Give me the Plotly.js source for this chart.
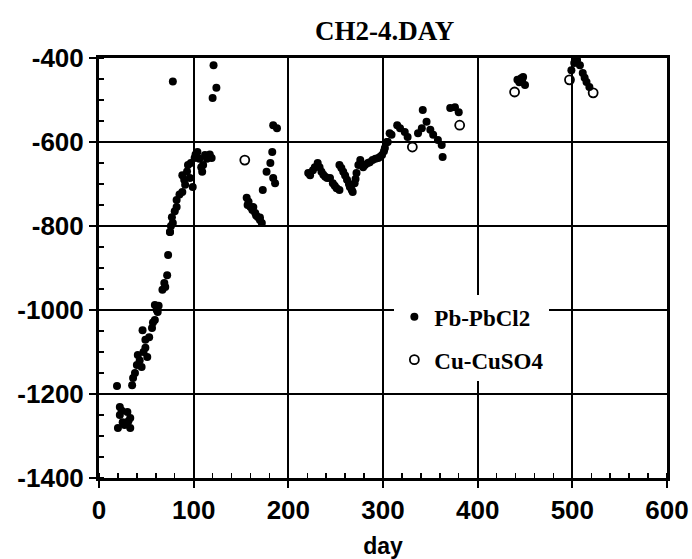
<!DOCTYPE html>
<html>
<head>
<meta charset="utf-8">
<script src="https://cdn.plot.ly/plotly-3.0.1.min.js"></script>
<style>html,body{margin:0;padding:0;background:#fff;}#chart{width:692px;height:559px;}</style>
</head>
<body>
<div id="chart"></div>
<script>
// Pb-PbCl2 electrode readings
var pbDay = [19, 20, 22, 22, 24, 25, 27, 30, 31, 33, 33, 35, 36, 38, 40, 41, 43, 45, 46, 47, 49, 49, 51, 53, 56, 57, 59, 59, 61, 62, 63, 67, 69, 70, 72, 73, 75, 75, 76, 77, 78, 78,
  80, 82, 82, 85, 88, 88, 90, 91, 93, 94, 96, 97, 99, 101, 102, 104, 106, 108, 109, 110, 112, 114, 117, 119, 120, 121, 124,
  156, 157, 158, 160, 162, 163, 165, 166, 168, 170, 170, 172, 173, 177, 181, 183, 184, 184, 186, 188,
  221, 223, 226, 228, 231, 233, 235, 237, 239, 241, 244, 247, 249, 251, 254, 254, 256, 258, 260, 262, 264, 265, 267, 268, 270, 271, 272, 274, 276, 279, 281, 284, 286, 289, 292, 295, 297, 299, 301, 302, 304, 305, 307, 309,
  315, 318, 323, 326, 337, 341, 342, 346, 350, 353, 358, 362, 363, 371, 376, 380,
  442, 444, 446, 447, 448, 450, 499, 502, 503, 505, 508, 511, 513, 515, 518];
var pbVal = [-1181, -1281, -1231, -1250, -1240, -1267, -1274, -1243, -1265, -1257, -1281, -1179, -1162, -1150, -1131, -1107, -1120, -1136, -1048, -1100, -1071, -1090, -1112, -1065, -1043, -1030, -988, -1024, -1000, -1005, -990, -952, -936, -945, -917, -869, -814, -814, -800, -779, -793, -456,
  -765, -738, -755, -725, -679, -719, -690, -702, -670, -655, -686, -650, -707, -638, -630, -624, -640, -660, -671, -655, -631, -640, -630, -638, -495, -417, -471,
  -733, -750, -742, -755, -762, -755, -769, -775, -779, -780, -786, -793, -714, -671, -650, -624, -686, -560, -698, -567,
  -674, -679, -667, -660, -650, -660, -671, -678, -683, -686, -686, -698, -704, -710, -714, -655, -662, -671, -680, -690, -700, -707, -714, -719, -698, -688, -674, -655, -643, -660, -655, -650, -648, -643, -640, -638, -635, -631, -622, -614, -600, -600, -579, -583,
  -560, -567, -576, -588, -579, -567, -524, -552, -571, -583, -595, -607, -636, -519, -517, -529,
  -452, -458, -448, -452, -445, -464, -429, -412, -409, -405, -417, -436, -447, -457, -469];

// Cu-CuSO4 electrode readings
var cuDay = [154, 331, 381, 439, 497, 522];
var cuVal = [-643, -612, -560, -481, -452, -483];

var xTicks = [0, 100, 200, 300, 400, 500, 600];
var yTicks = [-1400, -1200, -1000, -800, -600, -400];

var traces = [
  {x: pbDay, y: pbVal, type: 'scatter', mode: 'markers', name: 'Pb-PbCl2', legendgroup: 'a',
   marker: {symbol: 'circle', size: 8, color: '#000'}, cliponaxis: false},
  {x: cuDay, y: cuVal, type: 'scatter', mode: 'markers', name: 'Cu-CuSO4', legendgroup: 'b',
   marker: {symbol: 'circle-open', size: 9, color: '#000', line: {width: 1.8, color: '#000'}}, cliponaxis: false}
];

var tickFont = {family: 'Liberation Sans Narrow, Liberation Sans, sans-serif', size: 26, color: '#000', weight: 'bold'};

var layout = {
  width: 692, height: 559,
  margin: {l: 99, r: 25, t: 58, b: 81},
  paper_bgcolor: '#fff', plot_bgcolor: '#fff',
  title: {text: 'CH2-4.DAY', x: 0.556, xanchor: 'center', y: 0.945, yanchor: 'middle',
          font: {family: 'Liberation Serif, serif', size: 27, color: '#000', weight: 'bold'}},
  showlegend: true,
  legend: {x: 0.52, xanchor: 'left', y: 0.435, yanchor: 'top', bgcolor: '#fff', borderwidth: 0,
           tracegroupgap: 10,
           font: {family: 'Liberation Serif, serif', size: 23, color: '#000', weight: 'bold'}},
  xaxis: {range: [0, 600], tickvals: xTicks, ticktext: xTicks.map(String),
          showgrid: true, gridcolor: '#000', gridwidth: 2, zeroline: false,
          showline: true, linecolor: '#000', linewidth: 3, mirror: true,
          ticks: 'outside', ticklen: 7, tickwidth: 2, tickcolor: '#000',
          minor: {dtick: 20, ticks: 'inside', ticklen: 5, tickwidth: 1.5, tickcolor: '#000', showgrid: false},
          tickfont: tickFont,
          title: {text: 'day', standoff: 14, font: {family: 'Liberation Sans, sans-serif', size: 23, color: '#000', weight: 'bold'}}},
  yaxis: {range: [-1400, -400], tickvals: yTicks, ticktext: yTicks.map(String),
          showgrid: true, gridcolor: '#000', gridwidth: 2, zeroline: false,
          showline: true, linecolor: '#000', linewidth: 3, mirror: true,
          ticks: 'outside', ticklen: 7, tickwidth: 2, tickcolor: '#000',
          minor: {dtick: 50, ticks: 'inside', ticklen: 5, tickwidth: 1.5, tickcolor: '#000', showgrid: false},
          tickfont: tickFont}
};

Plotly.newPlot('chart', traces, layout, {displayModeBar: false, staticPlot: true});
</script>
</body>
</html>
